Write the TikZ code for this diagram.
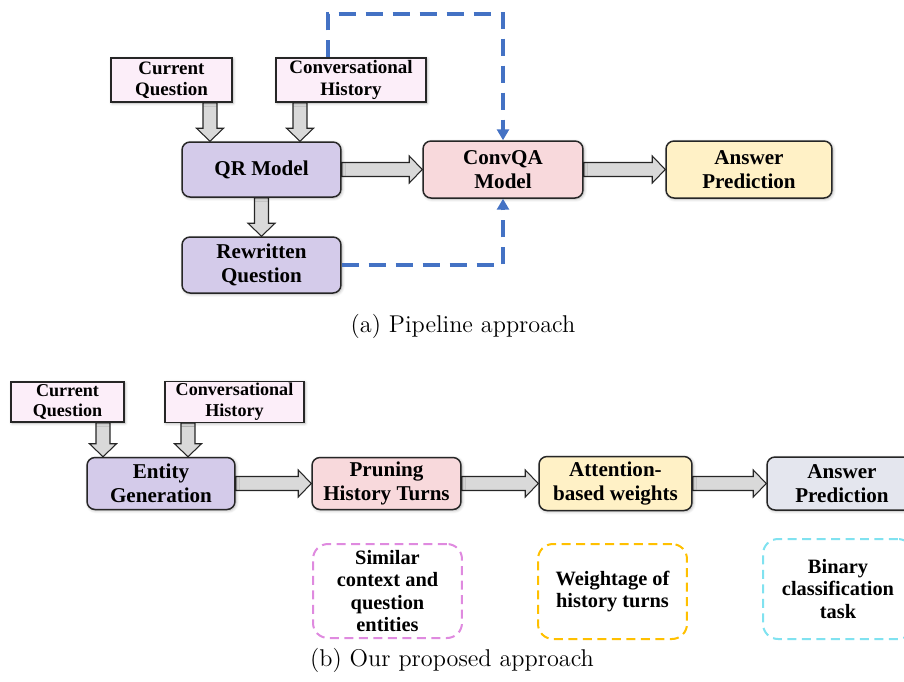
\documentclass[tikz,border=0pt]{standalone}
\usepackage{fontspec}
\newfontfamily\boxfont{Liberation Serif}
\usetikzlibrary{arrows.meta,calc,backgrounds,shadows.blur}

\definecolor{inpink}{HTML}{FCEEF9}
\definecolor{lavender}{HTML}{D4CBEA}
\definecolor{rose}{HTML}{F8D9DC}
\definecolor{cream}{HTML}{FFF1C6}
\definecolor{slate}{HTML}{E4E6EE}
\definecolor{arrgray}{HTML}{D9D9D9}
\definecolor{fbblue}{HTML}{4472C4}
\definecolor{pinkdash}{HTML}{DF8ADF}
\definecolor{golddash}{HTML}{FFC000}
\definecolor{cyandash}{HTML}{80E2F0}

\tikzset{
    box/.style={draw=black!85, line width=0.85pt, align=center, inner sep=1pt,
        blur shadow={shadow blur steps=6, shadow xshift=0.6pt, shadow yshift=-0.6pt, shadow opacity=30}},
    inbox/.style={box, fill=inpink, font=\boxfont\bfseries\fontsize{10.8}{12.2}\selectfont},
    model/.style={box, rounded corners=0.16cm, font=\boxfont\bfseries\fontsize{12}{13.6}\selectfont},
    note/.style={line width=0.04cm, dash pattern=on 0.18cm off 0.11cm, rounded corners=0.3cm,
        align=center, font=\boxfont\bfseries\fontsize{11.6}{12.8}\selectfont},
    feedback/.style={fbblue, line width=0.08cm, dash pattern=on 0.34cm off 0.2cm,
        -{Triangle[length=0.22cm,width=0.24cm]}},
    fatarr/.style={draw=black!85, line width=0.6pt, fill=arrgray,
        to path={
            ($(\tikztotarget)!0.26cm!(\tikztostart)$) coordinate (fa-b)
            ($(\tikztostart)!0.14cm!90:(\tikztotarget)$)
            -- ($(fa-b)!0.14cm!90:(\tikztotarget)$)
            -- ($(fa-b)!0.27cm!90:(\tikztotarget)$)
            -- (\tikztotarget)
            -- ($(fa-b)!0.27cm!-90:(\tikztotarget)$)
            -- ($(fa-b)!0.14cm!-90:(\tikztotarget)$)
            -- ($(\tikztostart)!0.14cm!-90:(\tikztotarget)$)
            -- cycle}},
    caption/.style={font=\fontsize{13.8}{16}\selectfont}
}

\begin{document}
\begin{tikzpicture}[x=0.02cm, y=-0.02cm]
    \useasboundingbox (0,0) rectangle (904,681);

    % (a) pipeline
    \node[inbox, minimum width=2.42cm, minimum height=0.88cm] (cq1) at (171.5,80) {Current\\Question};
    \node[inbox, minimum width=3.00cm, minimum height=0.88cm] (ch1) at (351,80) {Conversational\\History};
    \node[model, fill=lavender, minimum width=3.18cm, minimum height=1.10cm] (qr) at (261.5,169.5) {QR Model};
    \node[model, fill=lavender, minimum width=3.18cm, minimum height=1.12cm] (rq) at (261.5,265) {Rewritten\\Question};
    \node[model, fill=rose, minimum width=3.20cm, minimum height=1.14cm] (cqa) at (503,169.5) {ConvQA\\Model};
    \node[model, fill=cream, minimum width=3.32cm, minimum height=1.14cm] (ans1) at (749,169.5) {Answer\\Prediction};
    \node[caption] (capa) at (463,326) {(a) Pipeline approach};

    \draw[feedback] (328,0 |- ch1.north) |- (cqa.north |- 0,14) -- (cqa.north); % history
    \draw[feedback] (rq.east) -| (cqa.south); % rewrite

    % (b) proposed
    \node[inbox, minimum width=2.26cm, minimum height=0.80cm, font=\boxfont\bfseries\fontsize{10.3}{11.8}\selectfont] (cq2) at (67.5,402) {Current\\Question};
    \node[inbox, minimum width=2.78cm, minimum height=0.80cm, font=\boxfont\bfseries\fontsize{10.3}{11.8}\selectfont] (ch2) at (234.5,402) {Conversational\\History};
    \node[model, fill=lavender, minimum width=2.96cm, minimum height=1.04cm] (ent) at (161,483.5) {Entity\\Generation};
    \node[model, fill=rose, minimum width=2.98cm, minimum height=1.04cm] (prune) at (386.5,483.5) {Pruning\\History Turns};
    \node[model, fill=cream, minimum width=3.06cm, minimum height=1.08cm] (att) at (615.5,483.5) {Attention-\\based weights};
    \node[model, fill=slate, minimum width=3.00cm, minimum height=1.06cm] (ans2) at (842,483.5) {Answer\\Prediction};

    \node[note, draw=pinkdash, minimum width=2.98cm, minimum height=1.88cm] (sim) at (387.5,591) {Similar\\context and\\question\\entities};
    \node[note, draw=golddash, minimum width=2.98cm, minimum height=1.90cm] (wt) at (612.5,591.5) {Weightage of\\history turns};
    \node[note, draw=cyandash, minimum width=3.00cm, minimum height=2.00cm] (bin) at (838,589) {Binary\\classification\\task};
    \node[caption] (capb) at (452,660) {(b) Our proposed approach};

    % block arrows, under the boxes
    \begin{scope}[on background layer]
        \draw[fatarr] (210,0 |- cq1.south) to (210,0 |- qr.north);
        \draw[fatarr] (300,0 |- ch1.south) to (300,0 |- qr.north);
        \draw[fatarr] (qr.south) to (rq.north);
        \draw[fatarr] (qr.east) to (cqa.west);
        \draw[fatarr] (cqa.east) to (ans1.west);
        \draw[fatarr] (103,0 |- cq2.south) to (103,0 |- ent.north);
        \draw[fatarr] (188,0 |- ch2.south) to (188,0 |- ent.north);
        \draw[fatarr] (ent.east) to (prune.west);
        \draw[fatarr] (prune.east) to (att.west);
        \draw[fatarr] (att.east) to (ans2.west);
    \end{scope}
\end{tikzpicture}
\end{document}
